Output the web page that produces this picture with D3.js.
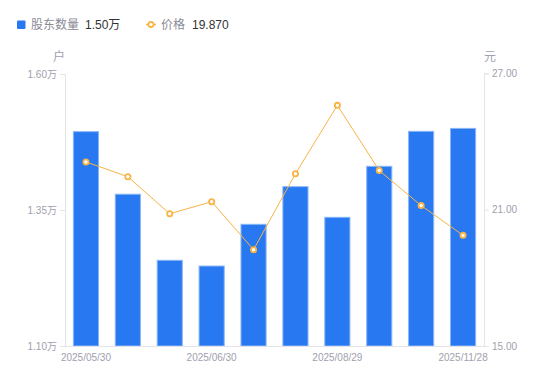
<!DOCTYPE html>
<html>
<head>
<meta charset="utf-8">
<script src="https://cdn.jsdelivr.net/npm/d3@7/dist/d3.min.js"></script>
<style>
html,body{margin:0;padding:0;background:#fff;}
svg{display:block;font-family:"Liberation Sans",Arial,"Noto Sans CJK SC",sans-serif;}
</style>
</head>
<body>
<svg id="chart" width="550" height="381"></svg>
<script>
const categories = ["2025/05/30","2025/06/10","2025/06/20","2025/06/30","2025/07/31","2025/08/20","2025/08/29","2025/09/30","2025/10/31","2025/11/28"];
const holders = [1.494, 1.379, 1.2575, 1.247, 1.3237, 1.3929, 1.3366, 1.4303, 1.4946, 1.500];
const prices = [23.10, 22.45, 20.82, 21.35, 19.24, 22.58, 25.59, 22.72, 21.18, 19.87];
const leftTicks = [1.10, 1.35, 1.60];
const rightTicks = [15, 21, 27];
const xTickLabels = ["2025/05/30","2025/06/30","2025/08/29","2025/11/28"];
const legendNames = ["股东数量","价格"];
const legendValues = ["1.50万","19.870"];

const svg = d3.select("#chart");
const pL = 65, pR = 484, pT = 74, pB = 346;
const axisColor = "#e3e3e8", labelColor = "#a0a0ae";
const barColor = "#2878f2", lineColor = "#f8b445";

const x = d3.scaleBand().domain(categories).range([pL, pR]).paddingInner(0.4).paddingOuter(0.2);
const yL = d3.scaleLinear().domain([1.10, 1.60]).range([pB, pT]);
const yR = d3.scaleLinear().domain([15, 27]).range([pB, pT - 0.7]);

// bars
svg.append("g").selectAll("rect").data(holders).join("rect")
  .attr("x", (d,i) => x(categories[i]))
  .attr("y", d => yL(d))
  .attr("width", x.bandwidth())
  .attr("height", d => pB - yL(d))
  .attr("fill", barColor)
  .attr("stroke", "#8ab6f7").attr("stroke-width", 1);

// axes
const gL = svg.append("g").attr("transform", `translate(${pL},0)`)
  .call(d3.axisLeft(yL).tickValues(leftTicks).tickSize(5).tickPadding(3).tickFormat(d => d.toFixed(2) + "万"));
const gR = svg.append("g").attr("transform", `translate(${pR},0)`)
  .call(d3.axisRight(yR).tickValues(rightTicks).tickSize(5).tickPadding(3).tickFormat(d => d.toFixed(2)));
const gB = svg.append("g").attr("transform", `translate(0,${pB})`)
  .call(d3.axisBottom(x).tickValues(xTickLabels).tickSize(0).tickPadding(8));
[gL, gR, gB].forEach(g => {
  g.select(".domain").attr("stroke", axisColor);
  g.selectAll(".tick line").attr("stroke", axisColor);
  g.selectAll("text").attr("fill", labelColor).attr("font-size", 10)
    .attr("font-family", '"Liberation Sans",Arial,"Noto Sans CJK SC",sans-serif');
});
gB.select(".domain").attr("d", `M${pL},0.5H${pR}`);

// unit labels
svg.append("text").attr("x", 59).attr("y", 61).attr("text-anchor", "middle")
  .attr("font-size", 12).attr("fill", labelColor).text("户");
svg.append("text").attr("x", 490).attr("y", 61).attr("text-anchor", "middle")
  .attr("font-size", 12).attr("fill", labelColor).text("元");

// line
const cx = i => x(categories[i]) + x.bandwidth() / 2;
svg.append("path").datum(prices)
  .attr("fill", "none").attr("stroke", lineColor).attr("stroke-width", 1)
  .attr("d", d3.line().x((d,i) => cx(i)).y(d => yR(d)));
svg.append("g").selectAll("circle").data(prices).join("circle")
  .attr("cx", (d,i) => cx(i)).attr("cy", d => yR(d)).attr("r", 2.6)
  .attr("fill", "#fff").attr("stroke", lineColor).attr("stroke-width", 1.8);

// legend
const lg = svg.append("g");
lg.append("rect").attr("x", 17).attr("y", 20.5).attr("width", 8.5).attr("height", 8.5).attr("rx", 1).attr("fill", barColor);
lg.append("text").attr("x", 31).attr("y", 29).attr("font-size", 12).attr("fill", "#8a8a96").text(legendNames[0]);
lg.append("text").attr("x", 85).attr("y", 29).attr("font-size", 12).attr("fill", "#333").text(legendValues[0]);
lg.append("line").attr("x1", 146).attr("x2", 156).attr("y1", 24.5).attr("y2", 24.5).attr("stroke", lineColor).attr("stroke-width", 1.5);
lg.append("circle").attr("cx", 151).attr("cy", 24.5).attr("r", 2.6).attr("fill", "#fff").attr("stroke", lineColor).attr("stroke-width", 1.8);
lg.append("text").attr("x", 161).attr("y", 29).attr("font-size", 12).attr("fill", "#8a8a96").text(legendNames[1]);
lg.append("text").attr("x", 192).attr("y", 29).attr("font-size", 12).attr("fill", "#333").text(legendValues[1]);
</script>
</body>
</html>
